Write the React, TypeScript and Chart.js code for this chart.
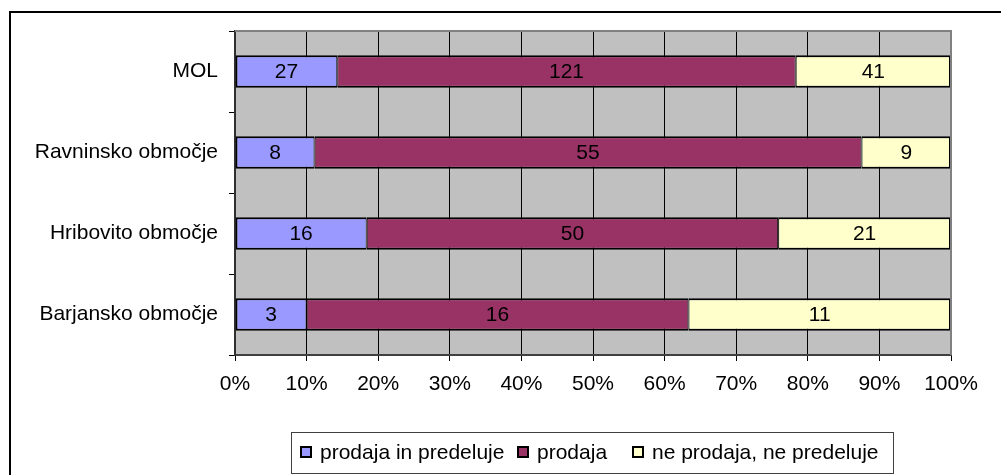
import React, { useEffect, useRef } from "react";
import { Chart, registerables } from "chart.js";

Chart.register(...registerables);

const categories = ["MOL", "Ravninsko območje", "Hribovito območje", "Barjansko območje"];
const seriesNames = ["prodaja in predeluje", "prodaja", "ne prodaja, ne predeluje"];
const prodajaInPredeluje = [27, 8, 16, 3];
const prodaja = [121, 55, 50, 16];
const neProdaja = [41, 9, 21, 11];
const seriesColors = ["#9999FF", "#993366", "#FFFFCC"];
const xTickLabels = ["0%", "10%", "20%", "30%", "40%", "50%", "60%", "70%", "80%", "90%", "100%"];

const FONT = '"Liberation Sans", Arial, sans-serif';
const FONT_SIZE = 21;

export default function App() {
  const ref = useRef<HTMLCanvasElement | null>(null);

  useEffect(() => {
    document.body.style.margin = "0";
    const canvas = ref.current;
    if (!canvas) return;

    const raw = [prodajaInPredeluje, prodaja, neProdaja];
    const totals = categories.map((_, i) => raw.reduce((s, arr) => s + arr[i], 0));
    const pct = raw.map((arr) => arr.map((v, i) => (v / totals[i]) * 100));

    const bgPlugin = {
      id: "bgPlugin",
      beforeDraw(chart: any) {
        const { ctx, chartArea: a } = chart;
        ctx.save();
        ctx.fillStyle = "#FFFFFF";
        ctx.fillRect(0, 0, chart.width, chart.height);
        ctx.fillStyle = "#C0C0C0";
        ctx.fillRect(a.left, a.top, a.right - a.left, a.bottom - a.top);
        ctx.restore();
      },
      afterDraw(chart: any) {
        const { ctx, chartArea: a } = chart;
        ctx.save();
        // plot area border top/right (gray)
        ctx.strokeStyle = "#808080";
        ctx.lineWidth = 2;
        ctx.beginPath();
        ctx.moveTo(a.left, a.top);
        ctx.lineTo(a.right, a.top);
        ctx.lineTo(a.right, a.bottom);
        ctx.stroke();
        // outer chart border
        ctx.strokeStyle = "#000000";
        ctx.lineWidth = 2;
        ctx.strokeRect(10, 12, 1200, 700);
        // legend
        const lx = 291.5, ly = 432.5, lw = 602, lh = 41;
        ctx.strokeStyle = "#404040";
        ctx.lineWidth = 1;
        ctx.strokeRect(lx, ly, lw, lh);
        const boxX = [300, 517, 632];
        const textX = [320, 537, 652];
        const cy = 452;
        ctx.font = `${FONT_SIZE}px ${FONT}`;
        ctx.textBaseline = "middle";
        ctx.textAlign = "left";
        seriesNames.forEach((name, i) => {
          ctx.fillStyle = seriesColors[i];
          ctx.fillRect(boxX[i], cy - 6, 12, 12);
          ctx.strokeStyle = "#000";
          ctx.lineWidth = 2;
          ctx.strokeRect(boxX[i] + 1, cy - 5, 10, 10);
          ctx.fillStyle = "#000";
          ctx.fillText(name, textX[i], cy + 1);
        });
        ctx.restore();
      },
      afterDatasetsDraw(chart: any) {
        const { ctx } = chart;
        ctx.save();
        ctx.font = `${FONT_SIZE}px ${FONT}`;
        ctx.fillStyle = "#000";
        ctx.textAlign = "center";
        ctx.textBaseline = "middle";
        chart.data.datasets.forEach((ds: any, di: number) => {
          const meta = chart.getDatasetMeta(di);
          meta.data.forEach((el: any, i: number) => {
            const p = el.getProps(["x", "y", "base"], true);
            const cx = (p.x + p.base) / 2;
            ctx.fillText(String(raw[di][i]), cx, p.y + 1);
          });
        });
        ctx.restore();
      },
    };

    const chart = new Chart(canvas, {
      type: "bar",
      data: {
        labels: categories,
        datasets: seriesNames.map((name, i) => ({
          label: name,
          data: pct[i],
          backgroundColor: seriesColors[i],
          borderColor: "#000000",
          borderWidth: { top: 2, bottom: 2, left: i === 0 ? 2 : 1, right: i === 2 ? 2 : 1 },
          borderSkipped: false,
          categoryPercentage: 1,
          barPercentage: 0.4,
        })),
      },
      options: {
        indexAxis: "y",
        animation: false,
        responsive: false,
        devicePixelRatio: 1,
        layout: { padding: { left: 0, top: 31, right: 50, bottom: 80 } },
        plugins: {
          legend: { display: false },
          tooltip: { enabled: false },
        },
        scales: {
          x: {
            stacked: true,
            min: 0,
            max: 100,
            afterFit(scale: any) {
              scale.height = 40;
            },
            afterBuildTicks(scale: any) {
              scale.ticks = xTickLabels.map((_, i) => ({ value: i * 10 }));
            },
            ticks: {
              callback: (_v: any, i: number) => xTickLabels[i],
              color: "#000",
              font: { family: FONT, size: FONT_SIZE },
              padding: 11,
              maxRotation: 0,
            },
            grid: {
              color: "#000000",
              lineWidth: 1,
              tickLength: 6,
              drawTicks: true,
            },
            border: { display: true, color: "#404040", width: 2 },
          },
          y: {
            stacked: true,
            afterFit(scale: any) {
              scale.width = 235;
            },
            ticks: {
              color: "#000",
              font: { family: FONT, size: FONT_SIZE },
              padding: 11,
            },
            grid: {
              offset: true,
              drawOnChartArea: false,
              drawTicks: true,
              tickLength: 6,
              color: "#000000",
            },
            border: { display: true, color: "#303030", width: 2 },
          },
        },
      },
      plugins: [bgPlugin],
    } as any);

    return () => chart.destroy();
  }, []);

  return <canvas ref={ref} width={1001} height={475} style={{ display: "block" }} />;
}
